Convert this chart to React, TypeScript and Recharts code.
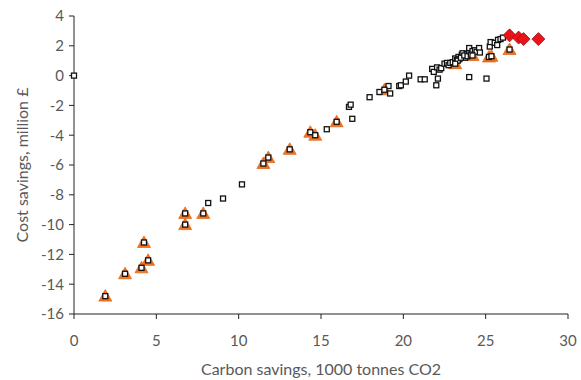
import { Scatter, ScatterChart, XAxis, YAxis } from "recharts";

// carbon savings (1000 t CO2) vs cost savings (million £)
const projectPoints: Array<[number, number]> = [
	[0, 0], [8.15, -8.55], [9.05, -8.25], [10.2, -7.3], [15.35, -3.6],
	[16.9, -2.9], [16.7, -2.1], [16.8, -1.95], [17.95, -1.45], [18.55, -1.1],
	[19.1, -0.7], [19.2, -1.2], [19.75, -0.7], [19.85, -0.65], [20.15, -0.4],
	[20.35, 0.0], [21.05, -0.25], [21.3, -0.25], [22.0, -0.65], [22.1, -0.2],
	[21.75, 0.45], [21.85, 0.25], [22.05, 0.55], [22.2, 0.4], [22.3, 0.5],
	[22.5, 0.8], [22.65, 0.85], [22.75, 0.7], [22.85, 0.85], [23.0, 0.9],
	[23.15, 1.15], [23.25, 1.05], [23.35, 1.25], [23.4, 1.1], [23.55, 1.4],
	[23.6, 1.5], [23.75, 1.2], [23.85, 1.45], [24.0, 1.6], [24.0, 1.85],
	[24.15, 1.5], [24.2, 1.65], [24.35, 1.7], [24.45, 1.6], [24.6, 1.85],
	[24.65, 1.55], [25.25, 1.95], [25.3, 2.25], [25.55, 2.2], [25.7, 2.05],
	[25.75, 2.4], [25.9, 2.45], [26.05, 2.55], [24.0, -0.1], [25.05, -0.2],
	[23.3, 1.0], [23.5, 1.2], [23.7, 1.35], [23.9, 1.3], [24.1, 1.4],
];

const flaggedPoints: Array<[number, number]> = [
	[1.9, -14.8], [3.1, -13.3], [4.1, -12.9], [4.5, -12.4], [4.25, -11.2],
	[6.75, -10.0], [6.75, -9.25], [7.85, -9.25], [11.5, -5.9], [11.8, -5.5],
	[13.1, -4.95], [14.35, -3.8], [14.65, -4.0], [15.95, -3.1], [18.85, -0.95],
	[23.15, 0.8], [24.2, 1.35], [25.2, 1.25], [25.35, 1.3], [26.45, 1.75],
];

const topPoints: Array<[number, number]> = [
	[26.45, 2.7], [27.0, 2.55], [27.3, 2.45], [28.2, 2.45],
];

const xTicks = [0, 5, 10, 15, 20, 25, 30];
const yTicks = [-16, -14, -12, -10, -8, -6, -4, -2, 0, 2, 4];

const toRows = (points: Array<[number, number]>) =>
	points.map(([carbon, cost]) => ({ carbon, cost }));

const font = "Lato, 'Open Sans', sans-serif";
const tickStyle = { fill: "#595959", fontSize: 15, fontFamily: font };
const titleStyle = { fill: "#595959", fontSize: 16, fontFamily: font };

function SquareMark(props: any) {
	const { cx, cy } = props;
	return (
		<rect x={cx - 2.5} y={cy - 2.5} width={5} height={5} fill="#fff" stroke="#111" strokeWidth={1.3} />
	);
}

function TriangleMark(props: any) {
	const { cx, cy } = props;
	return (
		<polygon
			points={`${cx},${cy - 6.5} ${cx - 6.5},${cy + 5} ${cx + 6.5},${cy + 5}`}
			fill="#f27421"
			stroke="#e4681a"
			strokeWidth={0.8}
		/>
	);
}

function DiamondMark(props: any) {
	const { cx, cy } = props;
	return (
		<polygon
			points={`${cx},${cy - 6.5} ${cx + 6.5},${cy} ${cx},${cy + 6.5} ${cx - 6.5},${cy}`}
			fill="#e8141a"
			stroke="#9a1010"
			strokeWidth={0.8}
		/>
	);
}

export default function App() {
	return (
		<div style={{ position: "fixed", left: 0, top: 0, background: "#fff" }}>
			<ScatterChart width={581} height={380} margin={{ top: 16, right: 13, bottom: 0, left: 0 }}>
				<XAxis
					type="number"
					dataKey="carbon"
					domain={[0, 30]}
					ticks={xTicks}
					height={66}
					tickSize={5}
					tickMargin={16}
					stroke="#222"
					tick={tickStyle}
					label={{
						value: "Carbon savings, 1000 tonnes CO2",
						position: "insideBottom",
						offset: 5,
						style: titleStyle,
					}}
				/>
				<YAxis
					type="number"
					dataKey="cost"
					domain={[-16, 4]}
					ticks={yTicks}
					width={74}
					tickSize={5}
					tickMargin={5}
					stroke="#222"
					tick={tickStyle}
					label={{
						value: "Cost savings, million £",
						angle: -90,
						position: "insideLeft",
						offset: 22,
						style: { ...titleStyle, textAnchor: "middle" },
					}}
				/>
				<Scatter data={toRows(flaggedPoints)} shape={<TriangleMark />} isAnimationActive={false} />
				<Scatter
					data={toRows([...projectPoints, ...flaggedPoints])}
					shape={<SquareMark />}
					isAnimationActive={false}
				/>
				<Scatter data={toRows(topPoints)} shape={<DiamondMark />} isAnimationActive={false} />
			</ScatterChart>
		</div>
	);
}
